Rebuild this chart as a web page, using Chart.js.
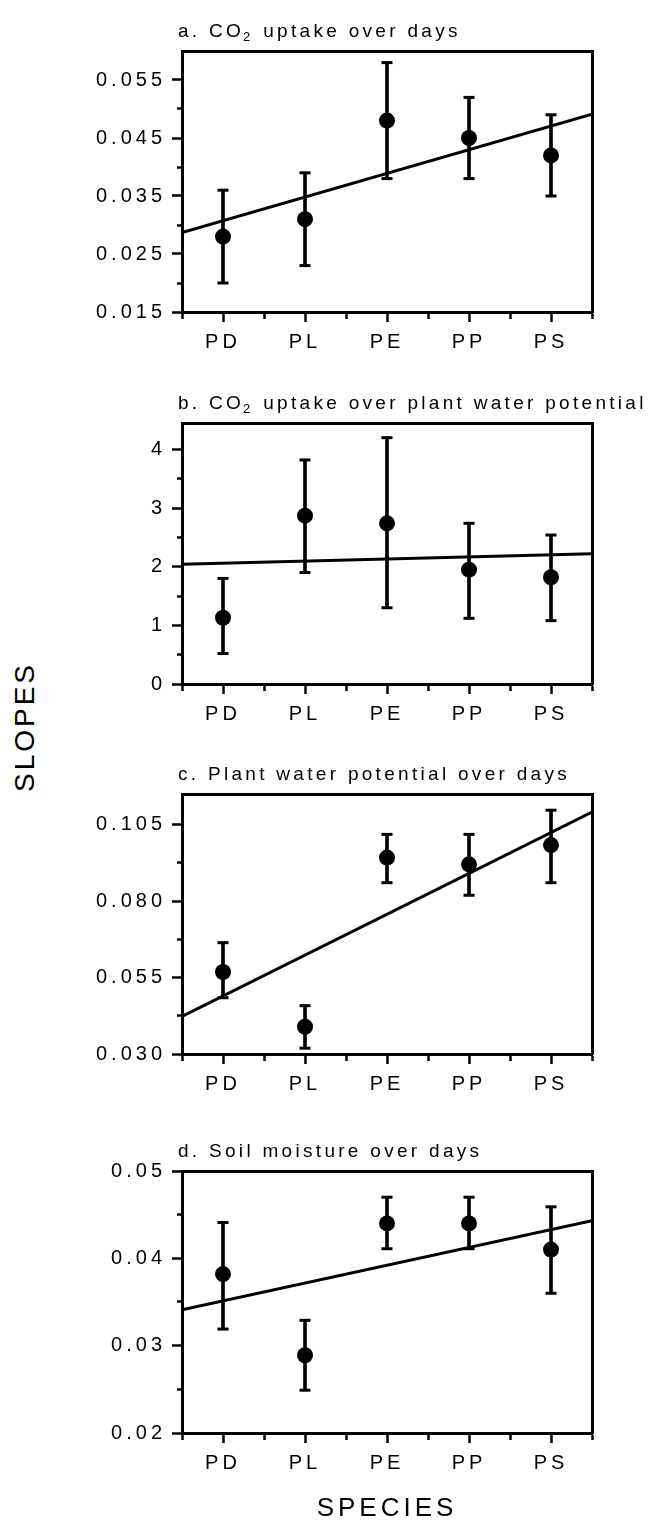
<!DOCTYPE html>
<html lang="en">
<head>
<meta charset="utf-8">
<title>Slopes by species</title>
<script src="https://cdn.jsdelivr.net/npm/chart.js@4.4.1/dist/chart.umd.min.js"></script>
<style>
    html, body { margin: 0; padding: 0; background: #fff; }
    body { width: 672px; height: 1522px; position: relative; overflow: hidden; font-family: "Liberation Sans", Arial, sans-serif; }
    .panel { position: absolute; left: 0; width: 672px; }
    #slopes { position: absolute; left: 25px; top: 727px; transform: translate(-50%, -50%) rotate(-90deg); font-size: 28px; letter-spacing: 3px; white-space: nowrap; color: #000; }
</style>
</head>
<body>
<div id="slopes">SLOPES</div>
<div class="panel" style="top:0px;height:370px"><canvas id="chartA"></canvas></div>
<div class="panel" style="top:372px;height:370px"><canvas id="chartB"></canvas></div>
<div class="panel" style="top:743px;height:369px"><canvas id="chartC"></canvas></div>
<div class="panel" style="top:1120px;height:404px"><canvas id="chartD"></canvas></div>

<script>
const species = ['PD', 'PL', 'PE', 'PP', 'PS'];

// a. CO2 uptake over days
const co2DaysMean = [0.028, 0.031, 0.048, 0.045, 0.042];
const co2DaysLow  = [0.020, 0.023, 0.038, 0.038, 0.035];
const co2DaysHigh = [0.036, 0.039, 0.058, 0.052, 0.049];
const co2DaysFit  = [0.0287, 0.0491];
const co2DaysTicks = ['0.015', '0.025', '0.035', '0.045', '0.055'];
const co2DaysMinor = [0.02, 0.03, 0.04, 0.05];

// b. CO2 uptake over plant water potential
const co2PsiMean = [1.13, 2.87, 2.74, 1.95, 1.82];
const co2PsiLow  = [0.52, 1.90, 1.30, 1.12, 1.08];
const co2PsiHigh = [1.80, 3.82, 4.20, 2.74, 2.54];
const co2PsiFit  = [2.04, 2.22];
const co2PsiTicks = ['0', '1', '2', '3', '4'];
const co2PsiMinor = [0.5, 1.5, 2.5, 3.5];

// c. Plant water potential over days
const psiDaysMean = [0.0568, 0.0389, 0.0942, 0.0920, 0.0983];
const psiDaysLow  = [0.0484, 0.0319, 0.0860, 0.0819, 0.0860];
const psiDaysHigh = [0.0664, 0.0458, 0.1018, 0.1018, 0.1097];
const psiDaysFit  = [0.0423, 0.1091];
const psiDaysTicks = ['0.030', '0.055', '0.080', '0.105'];
const psiDaysMinor = [0.0425, 0.0675, 0.0925];

// d. Soil moisture over days
const soilDaysMean = [0.0382, 0.0289, 0.0440, 0.0440, 0.0410];
const soilDaysLow  = [0.0319, 0.0249, 0.0411, 0.0411, 0.0360];
const soilDaysHigh = [0.0441, 0.0329, 0.0470, 0.0470, 0.0459];
const soilDaysFit  = [0.0341, 0.0443];
const soilDaysTicks = ['0.02', '0.03', '0.04', '0.05'];
const soilDaysMinor = [0.025, 0.035, 0.045];

const FONT = '"Liberation Sans", Arial, sans-serif';
const SPACING = '4px';

// wide letter spacing like the original typewriter-ish labels
const spacingPlugin = {
    id: 'spacing',
    beforeLayout (chart) { chart.ctx.letterSpacing = SPACING; },
    beforeDraw (chart) { chart.ctx.letterSpacing = SPACING; }
};

// title parts: plain strings, or {sub: '2'} for a subscript
const panelTitle = {
    id: 'panelTitle',
    afterDraw (chart, args, opts) {
        const {ctx, chartArea} = chart;
        let x = chartArea.left - 4;
        const y = chartArea.top - 14;
        ctx.save();
        ctx.fillStyle = '#000';
        ctx.textAlign = 'left';
        ctx.textBaseline = 'alphabetic';
        ctx.letterSpacing = '3.3px';
        opts.parts.forEach(p => {
            if (typeof p === 'string') {
                ctx.font = '19px ' + FONT;
                ctx.fillText(p, x, y);
                x += ctx.measureText(p).width;
            } else {
                ctx.font = '13px ' + FONT;
                ctx.fillText(p.sub, x - 1, y + 4);
                x += ctx.measureText(p.sub).width;
            }
        });
        ctx.restore();
    }
};

function makePanel (id, titleParts, mean, low, high, fit, tickLabels, minor, yMin, yMax, xHeight, xTitle) {

    const majors = tickLabels.map(Number);

    return new Chart(document.getElementById(id), {
        type: 'scatter',
        data: {
            datasets: [
                {
                    type: 'line',
                    data: [{x: -0.5, y: fit[0]}, {x: 4.5, y: fit[1]}],
                    borderColor: '#000',
                    borderWidth: 3,
                    pointRadius: 0,
                    xAxisID: 'x', yAxisID: 'y',
                    order: 1
                },
                {
                    type: 'bar',
                    data: species.map((s, i) => ({x: i, y: [low[i], high[i]]})),
                    backgroundColor: '#000',
                    borderWidth: 0,
                    barThickness: 3,
                    xAxisID: 'x', yAxisID: 'y',
                    order: 3
                },
                {
                    data: species.flatMap((s, i) => [{x: i, y: low[i]}, {x: i, y: high[i]}]),
                    pointStyle: 'line',
                    pointRadius: 5.5,
                    pointBorderWidth: 3,
                    pointBorderColor: '#000',
                    xAxisID: 'x', yAxisID: 'y',
                    order: 2
                },
                {
                    data: species.map((s, i) => ({x: i, y: mean[i]})),
                    pointRadius: 8,
                    pointBackgroundColor: '#000',
                    pointBorderWidth: 0,
                    xAxisID: 'x', yAxisID: 'y',
                    order: 0
                }
            ]
        },
        options: {
            responsive: true,
            maintainAspectRatio: false,
            animation: false,
            events: [],
            layout: { padding: { left: 0, right: 72, top: 43, bottom: 0 } },
            plugins: {
                legend: { display: false },
                tooltip: { enabled: false },
                panelTitle: { parts: titleParts }
            },
            scales: {
                x: {
                    type: 'linear',
                    position: 'bottom',
                    min: -0.5,
                    max: 4.5,
                    offset: false,
                    grid: {
                        offset: false,
                        drawOnChartArea: false,
                        tickLength: 10,
                        tickWidth: 2.5,
                        tickColor: '#000',
                        tickBorderDash: ctx => ctx.tick && ctx.tick.major ? [] : [5, 40]
                    },
                    border: { display: true, width: 3, color: '#000' },
                    ticks: {
                        autoSkip: false,
                        maxRotation: 0,
                        padding: 8,
                        color: '#000',
                        font: { family: FONT, size: 20 },
                        callback: (v, i, ticks) => ticks[i].major ? species[Math.round(v)] : ''
                    },
                    afterBuildTicks: scale => {
                        const t = [];
                        species.forEach((s, i) => {
                            t.push({value: i - 0.5, major: false});
                            t.push({value: i, major: true});
                        });
                        t.push({value: species.length - 0.5, major: false});
                        scale.ticks = t;
                    },
                    afterFit: scale => { scale.height = xHeight; },
                    title: {
                        display: !!xTitle,
                        text: xTitle || '',
                        color: '#000',
                        font: { family: FONT, size: 26 },
                        padding: 0
                    }
                },
                y: {
                    type: 'linear',
                    position: 'left',
                    min: yMin,
                    max: yMax,
                    beginAtZero: false,
                    grid: {
                        drawOnChartArea: false,
                        tickLength: 10,
                        tickWidth: 2.5,
                        tickColor: '#000',
                        tickBorderDash: ctx => ctx.tick && ctx.tick.major ? [] : [6, 5],
                        tickBorderDashOffset: ctx => ctx.tick && ctx.tick.major ? 0 : 6
                    },
                    border: { display: true, width: 3, color: '#000' },
                    ticks: {
                        padding: 6,
                        color: '#000',
                        font: { family: FONT, size: 20 },
                        callback: (v, i, ticks) => ticks[i].major ? tickLabels[majors.findIndex(m => Math.abs(m - v) < 1e-9)] : ''
                    },
                    afterBuildTicks: scale => {
                        const t = majors.map(v => ({value: v, major: true}))
                            .concat(minor.map(v => ({value: v, major: false})));
                        t.sort((a, b) => a.value - b.value);
                        scale.ticks = t;
                    },
                    afterFit: scale => { scale.width = 182; }
                },
                xTop: {
                    type: 'linear',
                    position: 'top',
                    min: 0, max: 1,
                    grid: { display: false },
                    ticks: { display: false },
                    border: { display: true, width: 3, color: '#000' }
                },
                yRight: {
                    type: 'linear',
                    position: 'right',
                    min: 0, max: 1,
                    grid: { display: false },
                    ticks: { display: false },
                    border: { display: true, width: 3, color: '#000' }
                }
            }
        },
        plugins: [spacingPlugin, panelTitle]
    });
}

makePanel('chartA', ['a. CO', {sub: '2'}, ' uptake over days'],
    co2DaysMean, co2DaysLow, co2DaysHigh, co2DaysFit, co2DaysTicks, co2DaysMinor, 0.015, 0.06, 58);
makePanel('chartB', ['b. CO', {sub: '2'}, ' uptake over plant water potential'],
    co2PsiMean, co2PsiLow, co2PsiHigh, co2PsiFit, co2PsiTicks, co2PsiMinor, 0, 4.45, 58);
makePanel('chartC', ['c. Plant water potential over days'],
    psiDaysMean, psiDaysLow, psiDaysHigh, psiDaysFit, psiDaysTicks, psiDaysMinor, 0.03, 0.115, 58);
makePanel('chartD', ['d. Soil moisture over days'],
    soilDaysMean, soilDaysLow, soilDaysHigh, soilDaysFit, soilDaysTicks, soilDaysMinor, 0.02, 0.05, 91, 'SPECIES');
</script>
</body>
</html>
